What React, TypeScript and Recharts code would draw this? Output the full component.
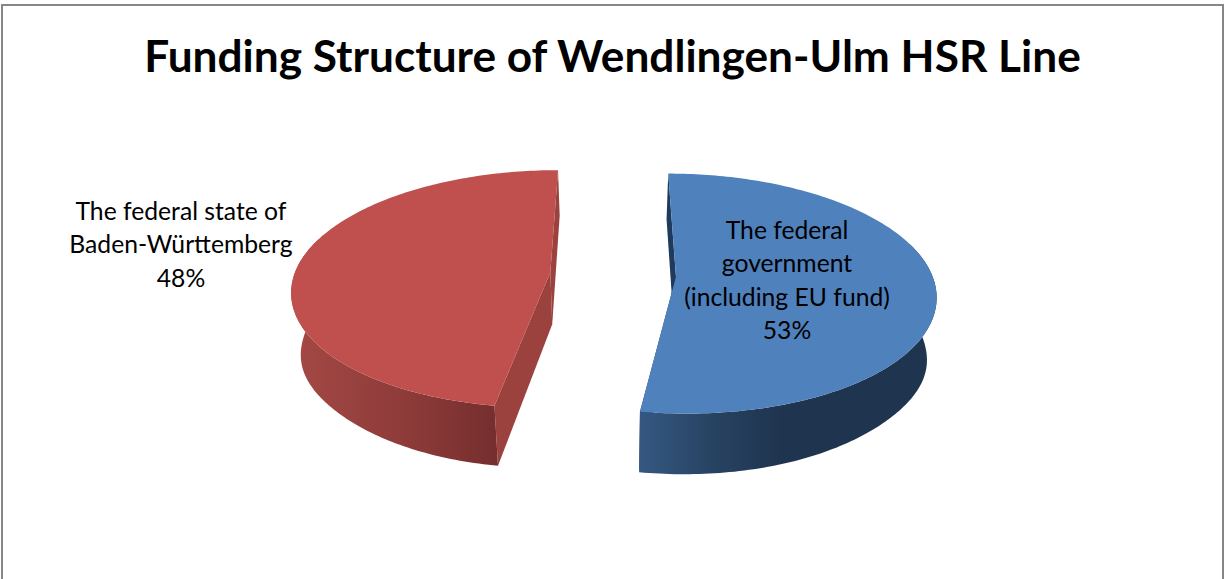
import React from 'react';
import { Pie, PieChart } from 'recharts';

const sliceNames = ['The federal government (including EU fund)', 'The federal state of Baden-Württemberg'];
const sliceValues = [53, 48];
const labelLines = [
	['The federal', 'government', '(including EU fund)'],
	['The federal state of', 'Baden-Württemberg'],
];

const title = 'Funding Structure of Wendlingen-Ulm HSR Line';

const topColors = ['#4f81bd', '#c0504d'];
const faceColors = ['#1f3a5c', '#9b413e'];
const wallStops = [
	[
		[0, '#355882'],
		[0.28, '#26415f'],
		[0.5, '#1f344f'],
		[1, '#1f344f'],
	],
	[
		[0, '#a24744'],
		[0.5, '#8f3c3a'],
		[1, '#752e2e'],
	],
];
const labelCentres = [
	{ x: 787, y: 239 },
	{ x: 181, y: 220 },
];

const data = sliceNames.map((name, i) => ({
	name,
	value: sliceValues[i],
	lines: labelLines[i],
	fill: topColors[i],
}));

// the 3D look: flat angles from the Pie are put through a small perspective projection
const SQUASH = 117;
const PERSPECTIVE = 0.14;
const EXPLODE = 63;
const HEIGHT = 52;
const SIDE_HEIGHT = 10;
const BOTTOM_SHRINK = 0.97;

const rad = (deg: number) => (deg * Math.PI) / 180;

const Slice3D = (props: any) => {
	const { cx, cy, outerRadius: r, startAngle, endAngle, index } = props;
	const mid = (startAngle + endAngle) / 2;

	const project = (angle: number | null, bottom: boolean) => {
		const u = (EXPLODE * Math.cos(rad(mid))) / r + (angle === null ? 0 : Math.cos(rad(angle)));
		const v = (EXPLODE * Math.sin(rad(mid))) / r + (angle === null ? 0 : Math.sin(rad(angle)));
		const s = 1 / (1 + PERSPECTIVE * v);
		const x = r * u * s;
		const y = -SQUASH * v * s;
		// the rim is a bit taller right at the sides
		const side = angle === null ? 0 : SIDE_HEIGHT * Math.cos(rad(angle)) ** 8;
		return bottom ? [cx + x * BOTTOM_SHRINK, cy + y + HEIGHT * s + side] : [cx + x, cy + y];
	};

	const steps = Math.ceil(Math.abs(startAngle - endAngle));
	const angles = Array.from({ length: steps + 1 }, (_, i) => startAngle + ((endAngle - startAngle) * i) / steps);
	const arcTop = angles.map((a) => project(a, false));
	const path = (pts: number[][]) => 'M' + pts.map((p) => `${p[0].toFixed(2)},${p[1].toFixed(2)}`).join('L') + 'Z';

	const apexTop = project(null, false);
	const apexBottom = project(null, true);
	// the back of the rim is hidden under the top, so only the front is drawn
	const frontAngles = angles.filter((a) => Math.sin(rad(a)) < 0.3);
	const frontTop = frontAngles.map((a) => project(a, false));
	const frontBottom = frontAngles.map((a) => project(a, true));
	const xs = frontBottom.map((p) => p[0]);
	const id = `wall-${index}`;

	return (
		<g>
			<defs>
				<linearGradient id={id} gradientUnits='userSpaceOnUse' x1={Math.min(...xs)} x2={Math.max(...xs)} y1={0} y2={0}>
					{wallStops[index].map(([o, c]) => (
						<stop key={o} offset={o as number} stopColor={c as string} />
					))}
				</linearGradient>
			</defs>
			<path d={path([arcTop[0], project(startAngle, true), apexBottom, apexTop])} fill={faceColors[index]} />
			<path d={path([arcTop[steps], project(endAngle, true), apexBottom, apexTop])} fill={faceColors[index]} />
			<path d={path(frontTop.concat(frontBottom.slice().reverse()))} fill={`url(#${id})`} />
			<path d={path([apexTop, ...arcTop])} fill={topColors[index]} />
		</g>
	);
};

const SliceLabel = (props: any) => {
	const { index, payload, value } = props;
	const lines = [...(payload.lines ?? labelLines[index]), `${value}%`];
	const pos = labelCentres[index];
	return (
		<text x={pos.x} y={pos.y} textAnchor='middle' fontFamily='Lato' fontSize={24.7} fill='#000'>
			{lines.map((line: string, i: number) => (
				<tspan key={line} x={pos.x} dy={i === 0 ? 0 : 33.3}>
					{line}
				</tspan>
			))}
		</text>
	);
};

const App = () => {
	return (
		<div style={{ position: 'absolute', left: 0, top: 0, width: 1225, height: 579, overflow: 'hidden' }}>
			<PieChart width={1225} height={579} margin={{ top: 0, right: 0, bottom: 0, left: 0 }}>
				<rect x={2} y={5} width={1221} height={640} fill='#fff' stroke='#868686' strokeWidth={2} />
				<text x={612.5} y={72} textAnchor='middle' fontFamily='Lato' fontWeight={700} fontSize={44.2} fill='#000'>
					{title}
				</text>
				<Pie
					data={data}
					dataKey='value'
					nameKey='name'
					cx={613}
					cy={274.5}
					innerRadius={0}
					outerRadius={256}
					startAngle={90}
					endAngle={-270}
					stroke='none'
					shape={Slice3D}
					label={SliceLabel}
					labelLine={false}
					isAnimationActive={false}
				/>
			</PieChart>
		</div>
	);
};

export default App;
